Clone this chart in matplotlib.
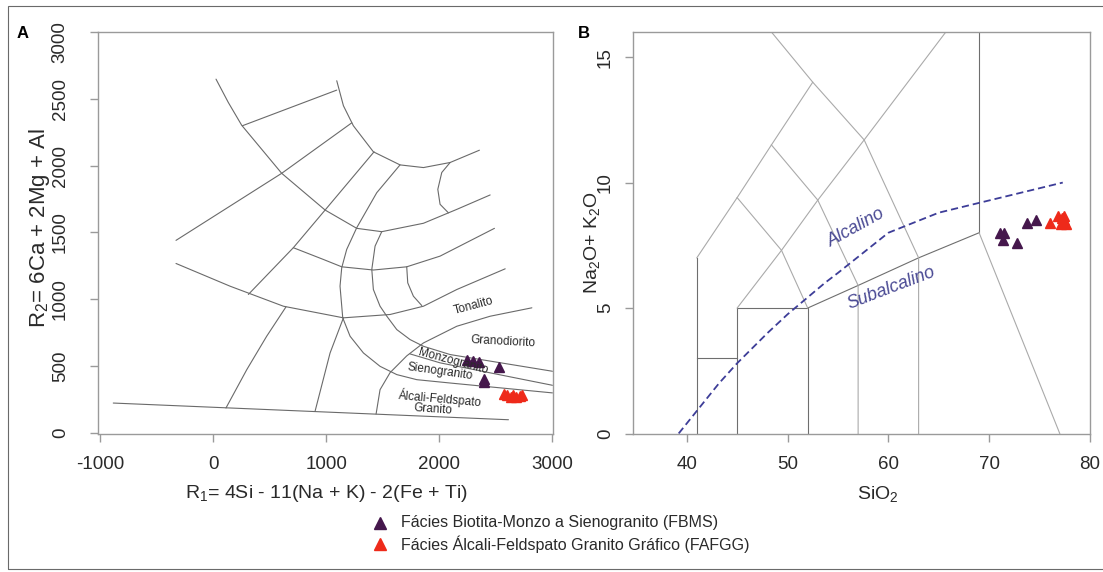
import matplotlib
matplotlib.use("Agg")
import matplotlib.pyplot as plt
from matplotlib.lines import Line2D
from matplotlib.patches import Rectangle
from matplotlib.transforms import ScaledTranslation

plt.rcParams["font.family"] = ["Liberation Sans", "DejaVu Sans"]
plt.rcParams["mathtext.default"] = "regular"
plt.rcParams["axes.unicode_minus"] = False

# ---------------- Panel A: R1-R2 diagram (De la Roche) ----------------
# field boundaries, (R1, R2) vertices
arc_outer = [(24, 2647), (133, 2472), (251, 2302), (428, 2122), (605, 1942), (989, 1667),
             (1269, 1530), (1490, 1505), (1859, 1568), (2154, 1672), (2449, 1780)]
arc_inner = [(1092, 2635), (1151, 2448), (1239, 2298), (1416, 2103), (1652, 2005),
             (1859, 1985), (2095, 2023), (2354, 2115)]
tie_top = [(257, 2298), (1092, 2565)]
ray_upper = [(-330, 1440), (605, 1942), (1225, 2320)]
ray_middle = [(1422, 2103), (989, 1667), (708, 1385), (310, 1035)]
arc_sieno = [(1652, 2005), (1446, 1797), (1269, 1535), (1180, 1372), (1136, 1235),
             (1121, 1097), (1145, 860), (1210, 722), (1328, 597), (1475, 497),
             (1623, 435), (1800, 397), (2095, 372), (3000, 298)]
arc_tonal = [(-330, 1267), (148, 1097), (620, 947), (1151, 860), (1564, 885),
             (1859, 947), (2154, 1072), (2582, 1227)]
arc_mid = [(708, 1385), (974, 1297), (1136, 1242), (1416, 1218), (1711, 1242),
           (2006, 1322), (2487, 1530)]
arc_monzo = [(1490, 1505), (1431, 1397), (1402, 1222), (1416, 1072), (1475, 947),
             (1535, 872), (1623, 772), (1741, 697), (1859, 647), (2095, 585), (3000, 460)]
monzo_sieno = [(1740, 590), (2006, 523), (3000, 355)]
granodiorite = [(1440, 140), (1475, 322), (1564, 450), (1711, 575), (1859, 672),
                (2154, 797), (2449, 872), (2818, 935)]
ray_left = [(643, 942), (472, 722), (296, 472), (112, 185)]
ray_right = [(1151, 860), (1033, 597), (900, 160)]
base_line = [(-885, 222), (2611, 97)]
bulge = [(2095, 2023), (2021, 1948), (1986, 1822), (2006, 1710), (2080, 1646)]
small_arc = [(1711, 1242), (1720, 1122), (1770, 1022), (1844, 952)]

r1r2_lines = [arc_outer, arc_inner, tie_top, ray_upper, ray_middle, arc_sieno, arc_tonal,
              arc_mid, arc_monzo, monzo_sieno, granodiorite, ray_left, ray_right,
              base_line, bulge, small_arc]

# field names with their anchor (R1, R2) and rotation
field_names = ["Tonalito", "Granodiorito", "Monzogranito", "Sienogranito",
               "Álcali-Feldspato", "Granito"]
field_r1 = [2301, 2566, 2124, 2006, 2006, 1947]
field_r2 = [947, 680, 535, 455, 260, 172]
field_rot = [15, -3, -15, -8, -5, -4]

# samples
fbms_r1 = [2243, 2301, 2354, 2531, 2396, 2396]
fbms_r2 = [547, 535, 530, 490, 400, 380]
fafgg_r1 = [2570, 2600, 2630, 2655, 2680, 2710, 2735]
fafgg_r2 = [290, 280, 270, 285, 265, 275, 280]

r1_ticks = [-1000, 0, 1000, 2000, 3000]
r2_ticks = [0, 500, 1000, 1500, 2000, 2500, 3000]

# ---------------- Panel B: TAS diagram ----------------
tas_dark = [
    [(41, 0), (41, 7)],
    [(41, 3), (45, 3)],
    [(45, 0), (45, 5), (52, 5), (52, 0)],
    [(52, 5), (57, 5.9), (63, 7), (69, 8)],
    [(69, 8), (69, 16)],
]
tas_light = [
    [(41, 7), (45, 9.4), (48.4, 11.5), (52.5, 14), (48.4, 16)],
    [(45, 5), (49.4, 7.3), (53, 9.3), (57.6, 11.7), (65.7, 16)],
    [(45, 9.4), (49.4, 7.3), (52, 5)],
    [(48.4, 11.5), (53, 9.3), (57, 5.9), (57, 0)],
    [(52.5, 14), (57.6, 11.7), (63, 7), (63, 0)],
    [(69, 8), (77, 0)],
]
# Irvine & Baragar alkaline / subalkaline divide
divide_sio2 = [39.2, 40, 43.2, 45, 48, 50, 53.7, 55, 60, 65, 77.3]
divide_alk = [0, 0.4, 2.0, 2.8, 4.0, 4.75, 6.0, 6.4, 8.0, 8.8, 10.0]

fbms_sio2 = [71.1, 71.5, 71.4, 72.8, 73.8, 74.6]
fbms_alk = [8.0, 8.0, 7.7, 7.6, 8.4, 8.5]
fafgg_sio2 = [76.0, 76.8, 77.2, 77.4, 77.6, 77.1, 77.4]
fafgg_alk = [8.4, 8.65, 8.6, 8.5, 8.35, 8.35, 8.65]

sio2_ticks = [40, 50, 60, 70, 80]
alk_ticks = [0, 5, 10, 15]

# ---------------- styling ----------------
W, H = 1103, 572
C_FBMS = "#45174c"
C_FAFGG = "#ee2a1a"
C_SPINE = "#9a9a9a"
C_TEXT = "#2a2a2a"
C_DIV = "#3d3d98"
TICK_FS = 13.5


def px_rect(x0, y0, x1, y1):
    return [x0 / W, 1 - y1 / H, (x1 - x0) / W, (y1 - y0) / H]


def style_axes(ax, ypad, xpad):
    for s in ax.spines.values():
        s.set_color(C_SPINE)
        s.set_linewidth(1.0)
    ax.tick_params(direction="out", length=6, width=1.0, color=C_SPINE,
                   labelcolor=C_TEXT, labelsize=TICK_FS)
    ax.tick_params(axis="y", labelrotation=90, pad=ypad)
    ax.tick_params(axis="x", pad=xpad)
    for lab in ax.get_yticklabels():
        lab.set_va("center")


fig = plt.figure(figsize=(W / 100, H / 100), dpi=100)
fig.patch.set_facecolor("white")
fig.add_artist(Rectangle((8 / W, 1 - 569 / H), 1.2, (569 - 6) / H, transform=fig.transFigure,
                         fill=False, edgecolor="#6a6a6a", linewidth=0.8))

# Panel A
axA = fig.add_axes(px_rect(98, 32, 553, 433.5))
for seg in r1r2_lines:
    xs, ys = zip(*seg)
    axA.plot(xs, ys, color="#6a6a6a", lw=0.8, solid_capstyle="round")
for name, x, y, rot in zip(field_names, field_r1, field_r2, field_rot):
    axA.text(x, y, name, fontsize=8.5, color=C_TEXT, rotation=rot,
             ha="center", va="center", rotation_mode="anchor")
axA.plot(fbms_r1, fbms_r2, ls="none", marker="^", ms=7, color=C_FBMS, mec=C_FBMS)
axA.plot(fafgg_r1, fafgg_r2, ls="none", marker="^", ms=7, color=C_FAFGG, mec=C_FAFGG)
axA.set_xlim(-1020, 3005)
axA.set_ylim(-6, 3000)
axA.set_xticks(r1_ticks)
axA.set_yticks(r2_ticks)
style_axes(axA, ypad=15, xpad=10)
# the top label sits a little below its tick
top_lab = axA.get_yticklabels()[-1]
top_lab.set_transform(top_lab.get_transform() + ScaledTranslation(0, -10 / 100, fig.dpi_scale_trans))

# Panel B
axB = fig.add_axes(px_rect(633.3, 32, 1090, 433.5))
for seg in tas_dark:
    xs, ys = zip(*seg)
    axB.plot(xs, ys, color="#6e6e6e", lw=0.8)
for seg in tas_light:
    xs, ys = zip(*seg)
    axB.plot(xs, ys, color="#aaaaaa", lw=0.8)
axB.plot(divide_sio2, divide_alk, color=C_DIV, lw=1.3, dashes=(4, 2.2))
axB.text(56.8, 8.2, "Alcalino", fontsize=13, style="italic", color="#4a4a94",
         rotation=29, ha="center", va="center", rotation_mode="anchor")
axB.text(60.3, 5.8, "Subalcalino", fontsize=13, style="italic", color="#4a4a94",
         rotation=21, ha="center", va="center", rotation_mode="anchor")
axB.plot(fbms_sio2, fbms_alk, ls="none", marker="^", ms=7, color=C_FBMS, mec=C_FBMS)
axB.plot(fafgg_sio2, fafgg_alk, ls="none", marker="^", ms=7, color=C_FAFGG, mec=C_FAFGG)
axB.set_xlim(34.7, 80)
axB.set_ylim(0, 16)
axB.set_xticks(sio2_ticks)
axB.set_yticks(alk_ticks)
style_axes(axB, ypad=8, xpad=10)

# axis titles and panel letters
fig.text(326 / W, 1 - 494 / H, "R$_1$= 4Si - 11(Na + K) - 2(Fe + Ti)", fontsize=14,
         color=C_TEXT, ha="center", va="center")
fig.text(39 / W, 1 - 228 / H, "R$_2$= 6Ca + 2Mg + Al", fontsize=16, color=C_TEXT,
         rotation=90, ha="center", va="center")
fig.text(878 / W, 1 - 494 / H, "SiO$_2$", fontsize=14, color=C_TEXT,
         ha="center", va="center")
fig.text(592 / W, 1 - 243 / H, "Na$_2$O+ K$_2$O", fontsize=14, color=C_TEXT,
         rotation=90, ha="center", va="center")
fig.text(17 / W, 1 - 33 / H, "A", fontsize=12, fontweight="bold", ha="left", va="center")
fig.text(578 / W, 1 - 33 / H, "B", fontsize=12, fontweight="bold", ha="left", va="center")

# legend
legend_labels = ["Fácies Biotita-Monzo a Sienogranito (FBMS)",
                 "Fácies Álcali-Feldspato Granito Gráfico (FAFGG)"]
legend_colors = [C_FBMS, C_FAFGG]
for i, (lab, col) in enumerate(zip(legend_labels, legend_colors)):
    yy = 1 - (523 + 21 * i) / H
    fig.add_artist(Line2D([380 / W], [yy], transform=fig.transFigure, ls="none",
                          marker="^", ms=9, color=col, mec=col))
    fig.text(401 / W, yy, lab, fontsize=11.5, color=C_TEXT, ha="left", va="center")

fig.savefig("out.png", dpi=100, facecolor="white")
